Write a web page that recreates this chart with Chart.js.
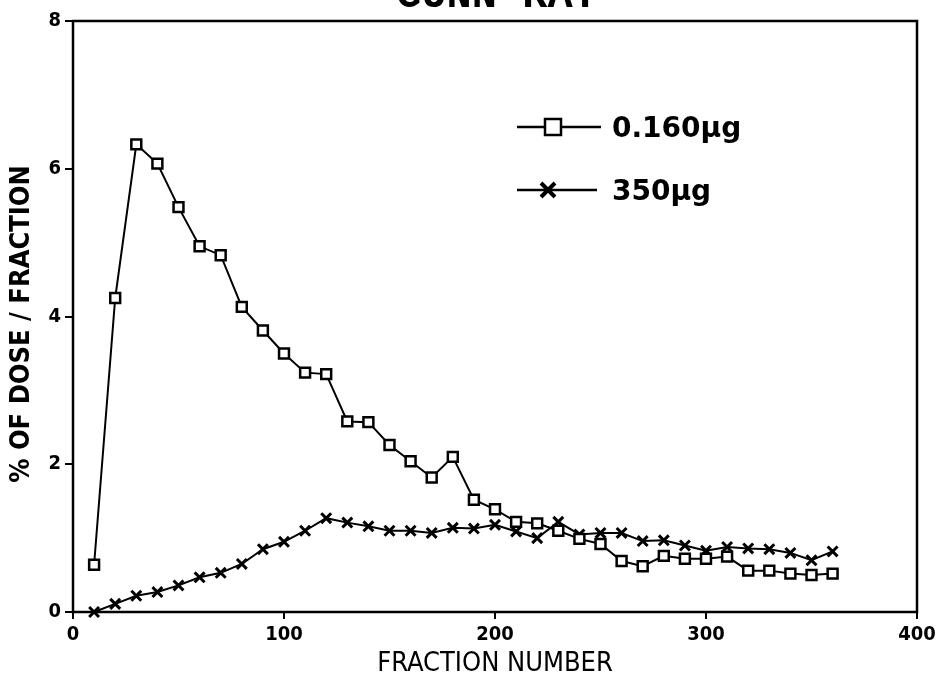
<!DOCTYPE html>
<html>
<head>
<meta charset="utf-8">
<script src="https://cdn.jsdelivr.net/npm/chart.js@4"></script>
<style>
  html,body{margin:0;padding:0;background:#fff;}
  #wrap{width:941px;height:686px;}
</style>
</head>
<body>
<div id="wrap"><canvas id="chart" width="941" height="686"></canvas></div>
<script>
// fraction numbers (x) and % of dose per fraction for each dose
const fractions = [10,20,30,40,50,60,70,80,90,100,110,120,130,140,150,160,170,180,190,200,210,220,230,240,250,260,270,280,290,300,310,320,330,340,350,360];
const dose160 = [0.64,4.25,6.33,6.07,5.48,4.95,4.83,4.13,3.81,3.5,3.24,3.22,2.58,2.57,2.26,2.04,1.82,2.1,1.52,1.39,1.22,1.2,1.1,0.99,0.92,0.69,0.62,0.76,0.72,0.72,0.75,0.56,0.56,0.52,0.5,0.52];
const dose350 = [0.0,0.11,0.22,0.27,0.36,0.47,0.53,0.65,0.85,0.95,1.1,1.27,1.21,1.16,1.1,1.1,1.07,1.14,1.13,1.18,1.09,1.0,1.22,1.05,1.07,1.07,0.96,0.97,0.9,0.83,0.88,0.86,0.85,0.8,0.7,0.82];
const xTicks = [0,100,200,300,400];
const yTicks = [0,2,4,6,8];
const seriesNames = ['0.160\u00b5g','350\u00b5g'];

const pts = arr => arr.map((v,i)=>({x:fractions[i], y:v}));

// frame, title (cut at the top), y title and the in-plot legend
const extras = {
  id:'extras',
  afterDraw(chart){
    const c = chart.ctx, a = chart.chartArea;
    c.save();
    c.strokeStyle = '#000';
    c.lineWidth = 2.5;
    c.strokeRect(a.left, a.top, a.right-a.left, a.bottom-a.top);

    c.fillStyle = '#000';
    c.font = 'bold 42px "Liberation Mono"';
    c.textAlign = 'center';
    c.textBaseline = 'alphabetic';
    c.fillText('GUNN RAT', 497, 7);

    // y axis title, a bit below the plot centre like the original
    c.save();
    c.translate(22, 324);
    c.rotate(-Math.PI/2);
    c.textBaseline = 'middle';
    c.font = 'bold 27px "DejaVu Sans Condensed"';
    c.fillText('% OF DOSE / FRACTION', 0, 0);
    c.restore();

    // legend
    c.lineWidth = 2.5;
    c.textAlign = 'left';
    c.font = 'bold 28px "DejaVu Sans"';
    c.beginPath(); c.moveTo(517,127); c.lineTo(601,127); c.stroke();
    c.fillStyle = '#fff';
    c.fillRect(545,119,16,16);
    c.strokeRect(545,119,16,16);
    c.fillStyle = '#000';
    c.fillText(seriesNames[0], 612, 137);

    c.beginPath(); c.moveTo(517,190); c.lineTo(597,190); c.stroke();
    c.lineWidth = 4;
    c.beginPath();
    c.moveTo(541,183); c.lineTo(555,197);
    c.moveTo(555,183); c.lineTo(541,197);
    c.stroke();
    c.fillText(seriesNames[1], 612, 200);
    c.restore();
  }
};

new Chart(document.getElementById('chart').getContext('2d'), {
  type:'line',
  data:{
    datasets:[
      {label:seriesNames[0], data:pts(dose160), borderColor:'#000', borderWidth:2,
       pointStyle:'rect', pointRadius:7, pointBorderWidth:2.5, pointBackgroundColor:'#fff', pointBorderColor:'#000',
       tension:0, clip:false},
      {label:seriesNames[1], data:pts(dose350), borderColor:'#000', borderWidth:2,
       pointStyle:'crossRot', pointRadius:7, pointBorderWidth:3, pointBorderColor:'#000',
       tension:0, clip:false}
    ]
  },
  options:{
    responsive:false,
    animation:false,
    layout:{padding:{left:0, top:21, right:24, bottom:0}},
    plugins:{legend:{display:false}, tooltip:{enabled:false}},
    scales:{
      x:{
        type:'linear', min:0, max:400,
        afterBuildTicks: ax => { ax.ticks = xTicks.map(v=>({value:v})); },
        afterFit: ax => { ax.height = 74; },
        grid:{drawOnChartArea:false, tickLength:7, color:'#000', lineWidth:2},
        border:{display:false},
        ticks:{color:'#000', padding:4, maxRotation:0, font:{family:'DejaVu Sans Condensed', size:20, weight:'bold'}},
        title:{display:true, text:'FRACTION NUMBER', color:'#000', padding:{top:0,bottom:6},
               font:{family:'DejaVu Sans Condensed', size:27}}
      },
      y:{
        min:0, max:8,
        afterBuildTicks: ax => { ax.ticks = yTicks.map(v=>({value:v})); },
        afterFit: ax => { ax.width = 73; },
        grid:{drawOnChartArea:false, tickLength:8, color:'#000', lineWidth:2},
        border:{display:false},
        ticks:{color:'#000', padding:4, font:{family:'DejaVu Sans Condensed', size:20, weight:'bold'}}
      }
    }
  },
  plugins:[extras]
});
</script>
</body>
</html>
